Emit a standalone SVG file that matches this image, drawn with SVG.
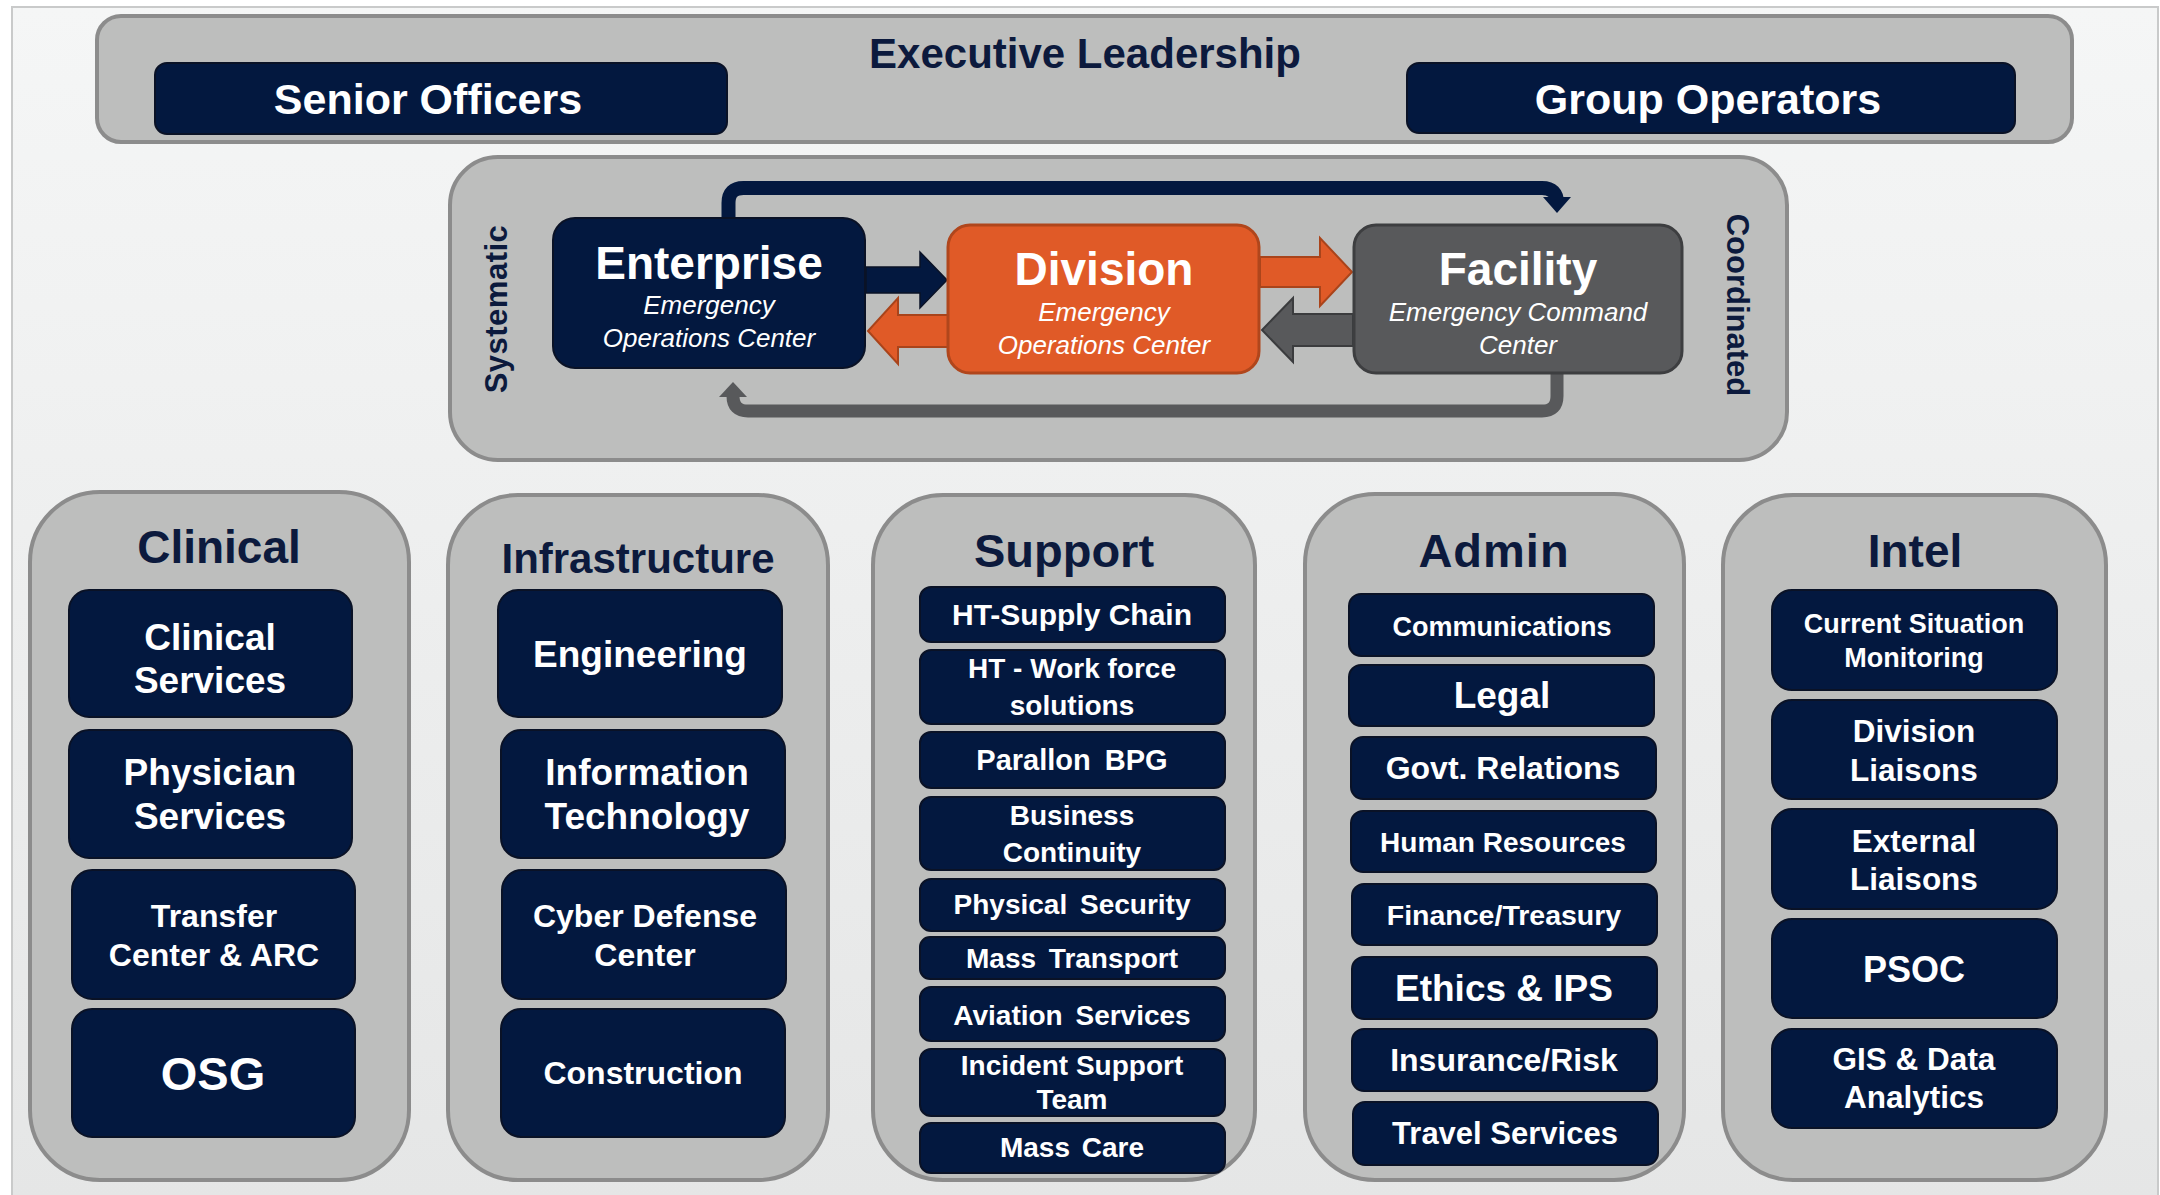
<svg xmlns="http://www.w3.org/2000/svg" width="2160" height="1195" viewBox="0 0 2160 1195">
<defs>
<linearGradient id="bg" x1="0" y1="0" x2="0" y2="1">
<stop offset="0" stop-color="#f5f6f6"/>
<stop offset="1" stop-color="#e5e6e6"/>
</linearGradient>
<style>
.grp{fill:#bdbebd;stroke:#8c8c8c;stroke-width:4}
.box{fill:#03183f;stroke:#0a1226;stroke-width:2}
.t{font-family:"Liberation Sans",Arial,sans-serif;font-weight:bold;fill:#ffffff;text-anchor:middle}
.i{font-family:"Liberation Sans",Arial,sans-serif;font-style:italic;fill:#ffffff;text-anchor:middle;font-size:26px}
.h{font-family:"Liberation Sans",Arial,sans-serif;font-weight:bold;fill:#0c1a3d;text-anchor:middle}
</style>
</defs>
<rect x="0" y="0" width="2160" height="1195" fill="#ffffff"/>
<rect x="12" y="7" width="2146" height="1192" fill="url(#bg)" stroke="#c9caca" stroke-width="2"/>

<g id="executive-leadership">
<rect class="grp" x="97" y="16" width="1975" height="126" rx="24"/>
<text class="h" x="1085" y="68" font-size="42">Executive Leadership</text>
</g>
<g id="senior-officers">
<rect class="box" x="155" y="63" width="572" height="71" rx="12"/>
<text class="t" x="428" y="114" font-size="43">Senior Officers</text>
</g>
<g id="group-operators">
<rect class="box" x="1407" y="63" width="608" height="70" rx="12"/>
<text class="t" x="1708" y="114" font-size="43">Group Operators</text>
</g>

<g id="eoc-panel">
<rect class="grp" x="450" y="157" width="1337" height="303" rx="48"/>
<text class="h" font-size="31" letter-spacing="0.5" transform="translate(507,309) rotate(-90)">Systematic</text>
<text class="h" font-size="31" transform="translate(1727,305) rotate(90)">Coordinated</text>
</g>

<g id="connectors">
<polygon points="866,267 920,267 920,252 947,280 920,308 920,293 866,293" fill="#03183f" stroke="#0a1226" stroke-width="1.5"/>
<polygon points="948,315 898,315 898,298 868,331 898,364 898,347 948,347" fill="#e05a27" stroke="#a9441b" stroke-width="2"/>
<polygon points="1260,257 1320,257 1320,238 1352,272 1320,306 1320,287 1260,287" fill="#e05a27" stroke="#a9441b" stroke-width="2"/>
<polygon points="1353,314 1293,314 1293,298 1262,330 1293,362 1293,346 1353,346" fill="#58595b" stroke="#3b3c3e" stroke-width="2"/>
<path d="M728.5 219 V203 Q728.5 188 743.5 188 H1542 Q1557 188 1557 203 V200" fill="none" stroke="#03183f" stroke-width="14"/>
<polygon points="1543,197 1571,197 1557,213" fill="#03183f"/>
<path d="M1557 372 V396 Q1557 411 1542 411 H748 Q733 411 733 396 V395" fill="none" stroke="#58595b" stroke-width="13"/>
<polygon points="719,397 747,397 733,382" fill="#58595b"/>
</g>

<g id="enterprise">
<rect class="box" x="553" y="218" width="312" height="150" rx="22"/>
<text class="t" x="709" y="279" font-size="46">Enterprise</text>
<text class="i" x="709" y="314">Emergency</text>
<text class="i" x="709" y="347">Operations Center</text>
</g>
<g id="division">
<rect x="948" y="225" width="311" height="148" rx="22" fill="#e05a27" stroke="#b0461c" stroke-width="3"/>
<text class="t" x="1104" y="285" font-size="46">Division</text>
<text class="i" x="1104" y="321">Emergency</text>
<text class="i" x="1104" y="354">Operations Center</text>
</g>
<g id="facility">
<rect x="1354" y="225" width="328" height="148" rx="22" fill="#58595b" stroke="#3d3e40" stroke-width="3"/>
<text class="t" x="1518" y="285" font-size="46">Facility</text>
<text class="i" x="1518" y="321">Emergency Command</text>
<text class="i" x="1518" y="354">Center</text>
</g>

<g id="clinical">
<rect class="grp" x="30" y="492" width="379" height="688" rx="70"/>
<text class="h" x="219" y="563" font-size="46">Clinical</text>
</g>
<g id="clinical-services">
<rect class="box" x="69" y="590" width="283" height="127" rx="20"/>
<text class="t" x="210" y="650" font-size="37">Clinical</text>
<text class="t" x="210" y="693" font-size="37">Services</text>
</g>
<g id="physician-services">
<rect class="box" x="69" y="730" width="283" height="128" rx="20"/>
<text class="t" x="210" y="785" font-size="37">Physician</text>
<text class="t" x="210" y="829" font-size="37">Services</text>
</g>
<g id="transfer-center">
<rect class="box" x="72" y="870" width="283" height="129" rx="20"/>
<text class="t" x="214" y="927" font-size="32">Transfer</text>
<text class="t" x="214" y="966" font-size="32">Center &amp; ARC</text>
</g>
<g id="osg">
<rect class="box" x="72" y="1009" width="283" height="128" rx="20"/>
<text class="t" x="213" y="1090" font-size="47">OSG</text>
</g>

<g id="infrastructure">
<rect class="grp" x="448" y="495" width="380" height="685" rx="70"/>
<text class="h" x="638" y="573" font-size="42">Infrastructure</text>
</g>
<g id="engineering">
<rect class="box" x="498" y="590" width="284" height="127" rx="20"/>
<text class="t" x="640" y="667" font-size="37">Engineering</text>
</g>
<g id="information-technology">
<rect class="box" x="501" y="730" width="284" height="128" rx="20"/>
<text class="t" x="647" y="785" font-size="37">Information</text>
<text class="t" x="647" y="829" font-size="37">Technology</text>
</g>
<g id="cyber-defense-center">
<rect class="box" x="502" y="870" width="284" height="129" rx="20"/>
<text class="t" x="645" y="927" font-size="32">Cyber Defense</text>
<text class="t" x="645" y="966" font-size="32">Center</text>
</g>
<g id="construction">
<rect class="box" x="501" y="1009" width="284" height="128" rx="20"/>
<text class="t" x="643" y="1084" font-size="32">Construction</text>
</g>

<g id="support">
<rect class="grp" x="873" y="495" width="382" height="685" rx="70"/>
<text class="h" x="1064" y="567" font-size="47">Support</text>
</g>
<g id="ht-supply-chain">
<rect class="box" x="920" y="587" width="305" height="55" rx="11"/>
<text class="t" x="1072" y="625" font-size="30">HT-Supply Chain</text>
</g>
<g id="ht-work-force">
<rect class="box" x="920" y="650" width="305" height="74" rx="11"/>
<text class="t" x="1072" y="678" font-size="28">HT - Work force</text>
<text class="t" x="1072" y="715" font-size="28">solutions</text>
</g>
<g id="parallon-bpg">
<rect class="box" x="920" y="732" width="305" height="56" rx="11"/>
<text class="t" x="1072" y="770" font-size="29" word-spacing="6">Parallon BPG</text>
</g>
<g id="business-continuity">
<rect class="box" x="920" y="797" width="305" height="73" rx="11"/>
<text class="t" x="1072" y="825" font-size="28">Business</text>
<text class="t" x="1072" y="862" font-size="28">Continuity</text>
</g>
<g id="physical-security">
<rect class="box" x="920" y="879" width="305" height="52" rx="11"/>
<text class="t" x="1072" y="914" font-size="28" word-spacing="5">Physical Security</text>
</g>
<g id="mass-transport">
<rect class="box" x="920" y="937" width="305" height="42" rx="10"/>
<text class="t" x="1072" y="968" font-size="28" word-spacing="5">Mass Transport</text>
</g>
<g id="aviation-services">
<rect class="box" x="920" y="987" width="305" height="54" rx="11"/>
<text class="t" x="1072" y="1025" font-size="28" word-spacing="5">Aviation Services</text>
</g>
<g id="incident-support-team">
<rect class="box" x="920" y="1049" width="305" height="67" rx="11"/>
<text class="t" x="1072" y="1075" font-size="28">Incident Support</text>
<text class="t" x="1072" y="1109" font-size="28">Team</text>
</g>
<g id="mass-care">
<rect class="box" x="920" y="1123" width="305" height="50" rx="11"/>
<text class="t" x="1072" y="1157" font-size="28" word-spacing="4">Mass Care</text>
</g>

<g id="admin">
<rect class="grp" x="1305" y="494" width="379" height="686" rx="70"/>
<text class="h" x="1494" y="567" font-size="47" letter-spacing="1">Admin</text>
</g>
<g id="communications">
<rect class="box" x="1349" y="594" width="305" height="62" rx="12"/>
<text class="t" x="1502" y="636" font-size="27">Communications</text>
</g>
<g id="legal">
<rect class="box" x="1349" y="665" width="305" height="61" rx="12"/>
<text class="t" x="1502" y="708" font-size="37">Legal</text>
</g>
<g id="govt-relations">
<rect class="box" x="1351" y="737" width="305" height="62" rx="12"/>
<text class="t" x="1503" y="779" font-size="32">Govt. Relations</text>
</g>
<g id="human-resources">
<rect class="box" x="1351" y="811" width="305" height="61" rx="12"/>
<text class="t" x="1503" y="852" font-size="28">Human Resources</text>
</g>
<g id="finance-treasury">
<rect class="box" x="1352" y="884" width="305" height="61" rx="12"/>
<text class="t" x="1504" y="925" font-size="28.5">Finance/Treasury</text>
</g>
<g id="ethics-ips">
<rect class="box" x="1352" y="957" width="305" height="62" rx="12"/>
<text class="t" x="1504" y="1001" font-size="37">Ethics &amp; IPS</text>
</g>
<g id="insurance-risk">
<rect class="box" x="1352" y="1029" width="305" height="62" rx="12"/>
<text class="t" x="1504" y="1071" font-size="32">Insurance/Risk</text>
</g>
<g id="travel-services">
<rect class="box" x="1353" y="1102" width="305" height="63" rx="12"/>
<text class="t" x="1505" y="1144" font-size="31">Travel Services</text>
</g>

<g id="intel">
<rect class="grp" x="1723" y="495" width="383" height="685" rx="70"/>
<text class="h" x="1915" y="567" font-size="46">Intel</text>
</g>
<g id="current-situation-monitoring">
<rect class="box" x="1772" y="590" width="285" height="100" rx="20"/>
<text class="t" x="1914" y="633" font-size="27">Current Situation</text>
<text class="t" x="1914" y="667" font-size="27">Monitoring</text>
</g>
<g id="division-liaisons">
<rect class="box" x="1772" y="700" width="285" height="99" rx="20"/>
<text class="t" x="1914" y="742" font-size="31.5">Division</text>
<text class="t" x="1914" y="781" font-size="31.5">Liaisons</text>
</g>
<g id="external-liaisons">
<rect class="box" x="1772" y="809" width="285" height="100" rx="20"/>
<text class="t" x="1914" y="852" font-size="31.5">External</text>
<text class="t" x="1914" y="890" font-size="31.5">Liaisons</text>
</g>
<g id="psoc">
<rect class="box" x="1772" y="919" width="285" height="99" rx="20"/>
<text class="t" x="1914" y="982" font-size="36">PSOC</text>
</g>
<g id="gis-data-analytics">
<rect class="box" x="1772" y="1029" width="285" height="99" rx="20"/>
<text class="t" x="1914" y="1070" font-size="31.5">GIS &amp; Data</text>
<text class="t" x="1914" y="1108" font-size="31.5">Analytics</text>
</g>
</svg>
